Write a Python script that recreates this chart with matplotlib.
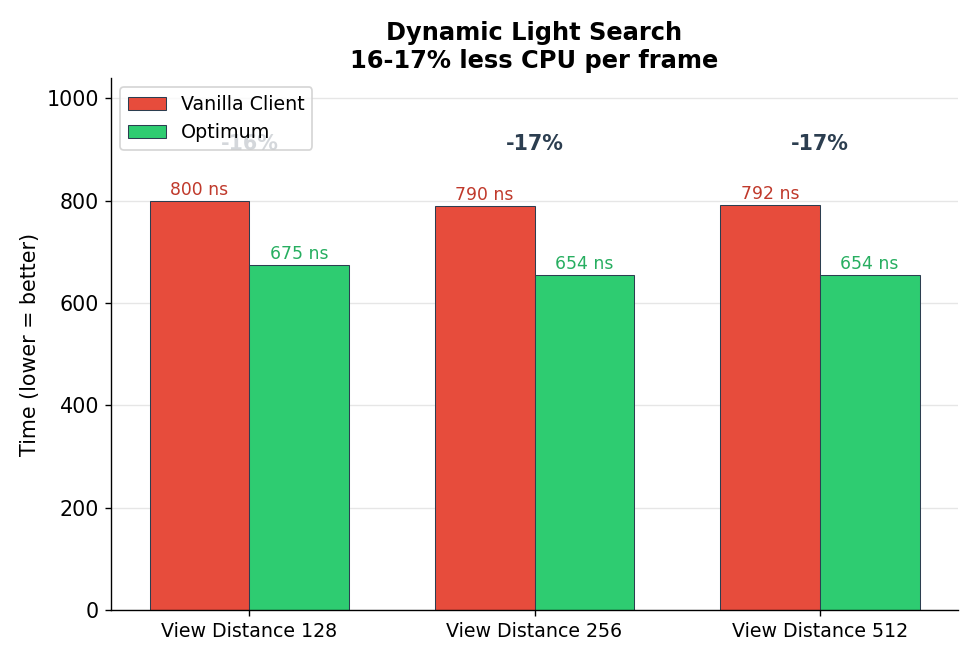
import matplotlib
matplotlib.use("Agg")
import matplotlib.pyplot as plt
import numpy as np

categories = ["View Distance 128", "View Distance 256", "View Distance 512"]
vanilla = [800, 790, 792]
optimum = [675, 654, 654]
improvements = ["-16%", "-17%", "-17%"]

DPI = 124
fig, ax = plt.subplots(figsize=(972 / DPI, 658 / DPI), dpi=DPI)
x = np.arange(len(categories))
w = 0.35
ax.bar(x - w/2, vanilla, w, color="#e74c3c", edgecolor="#2c3e50", linewidth=0.6, label="Vanilla Client")
ax.bar(x + w/2, optimum, w, color="#2ecc71", edgecolor="#2c3e50", linewidth=0.6, label="Optimum")

for xi, v in zip(x - w/2, vanilla):
    ax.text(xi, v + 4, f"{v} ns", ha="center", va="bottom", fontsize=10, color="#c0392b")
for xi, v in zip(x + w/2, optimum):
    ax.text(xi, v + 4, f"{v} ns", ha="center", va="bottom", fontsize=10, color="#27ae60")
for xi, t in zip(x, improvements):
    ax.text(xi, 910, t, ha="center", va="center", fontsize=12, fontweight="bold", color="#2c3e50")

ax.set_ylim(0, 1040)
ax.set_xticks(x)
ax.set_xticklabels(categories, fontsize=11)
ax.tick_params(axis="y", labelsize=12)
ax.set_ylabel("Time (lower = better)", fontsize=12)
ax.set_title("Dynamic Light Search\n16-17% less CPU per frame", fontsize=14, fontweight="bold")
ax.yaxis.grid(True, color="#e6e6e6", linewidth=0.8)
ax.set_axisbelow(True)
ax.spines["top"].set_visible(False)
ax.spines["right"].set_visible(False)
leg = ax.legend(loc="upper left", fontsize=11)
leg.set_zorder(10)

fig.subplots_adjust(left=0.1142, right=0.9856, top=0.8815, bottom=0.0729)
fig.savefig("out.png", dpi=DPI)
